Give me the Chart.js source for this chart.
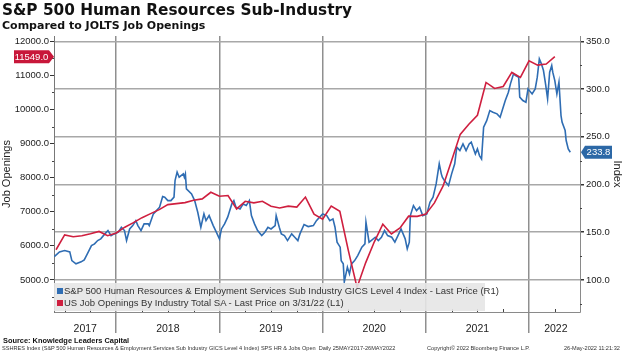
<!DOCTYPE html>
<html>
<head>
<meta charset="utf-8">
<script src="https://cdn.jsdelivr.net/npm/chart.js@4"></script>
<style>
  body { margin: 0; background: #fff; }
  #wrap { position: relative; width: 624px; height: 353px; overflow: hidden; }
  #wrap div { position: absolute; white-space: nowrap; }
  #title { left: 2px; top: 1px; font: bold 15.3px "DejaVu Sans"; color: #111; }
  #subtitle { left: 2px; top: 19px; font: bold 11px "DejaVu Sans"; color: #111; }
  #legend { left: 54px; top: 283px; width: 431px; height: 28px; background: rgba(230,230,230,0.9);
            font: 9.5px "Liberation Sans"; color: #333; line-height: 12px; padding-top: 2px; box-sizing: border-box; }
  #legend span.sq { display: inline-block; width: 6px; height: 6px; margin: 0 1px 0 3px; }
  #source { left: 3px; top: 336px; font: bold 7.4px "Liberation Sans"; color: #111; }
  .foot { top: 345px; font: 5.6px "Liberation Sans"; color: #333; }
</style>
</head>
<body>
<div id="wrap">
  <canvas id="chart" width="624" height="353"></canvas>
  <div id="title">S&amp;P 500 Human Resources Sub-Industry</div>
  <div id="subtitle">Compared to JOLTS Job Openings</div>
  <div id="legend">
    <div style="position:static"><span class="sq" style="background:#2f6db3"></span>S&amp;P 500 Human Resources &amp; Employment Services Sub Industry GICS Level 4 Index - Last Price (R1)</div>
    <div style="position:static"><span class="sq" style="background:#cf1f3f"></span>US Job Openings By Industry Total SA - Last Price on 3/31/22 (L1)</div>
  </div>
  <div id="source">Source: Knowledge Leaders Capital</div>
  <div class="foot" style="left:2px">SSHRES Index (S&amp;P 500 Human Resources &amp; Employment Services Sub Industry GICS Level 4 Index) SPS HR &amp; Jobs Open&nbsp; Daily 25MAY2017-26MAY2022</div>
  <div class="foot" style="left:427px">Copyright© 2022 Bloomberg Finance L.P.</div>
  <div class="foot" style="left:564px">26-May-2022 11:21:32</div>
</div>
<script>
// S&P 500 HR & Employment Services index (right axis)
const hrYears = [
  2017.40, 2017.45, 2017.50, 2017.55, 2017.57, 2017.61, 2017.66, 2017.69, 2017.72, 2017.76,
  2017.79, 2017.82, 2017.85, 2017.89, 2017.92, 2017.95, 2017.98, 2018.02, 2018.05, 2018.08,
  2018.10, 2018.13, 2018.16, 2018.19, 2018.21, 2018.24, 2018.27, 2018.31, 2018.32, 2018.36,
  2018.39, 2018.42, 2018.45, 2018.47, 2018.50, 2018.53, 2018.56, 2018.57, 2018.59, 2018.61,
  2018.65, 2018.66, 2018.67, 2018.68, 2018.73, 2018.76, 2018.79, 2018.82, 2018.85, 2018.87,
  2018.90, 2018.94, 2018.97, 2019.00, 2019.02, 2019.05, 2019.08, 2019.12, 2019.14, 2019.16,
  2019.20, 2019.23, 2019.26, 2019.29, 2019.31, 2019.34, 2019.37, 2019.41, 2019.44, 2019.47,
  2019.50, 2019.54, 2019.55, 2019.58, 2019.60, 2019.63, 2019.66, 2019.70, 2019.73, 2019.76,
  2019.78, 2019.82, 2019.86, 2019.91, 2019.94, 2019.97, 2020.00, 2020.04, 2020.07, 2020.10,
  2020.12, 2020.14, 2020.17, 2020.18, 2020.20, 2020.21, 2020.24, 2020.26, 2020.28, 2020.31,
  2020.34, 2020.38, 2020.41, 2020.42, 2020.45, 2020.47, 2020.51, 2020.54, 2020.57, 2020.60,
  2020.63, 2020.67, 2020.70, 2020.73, 2020.76, 2020.80, 2020.82, 2020.84, 2020.85, 2020.88,
  2020.91, 2020.94, 2020.97, 2021.01, 2021.04, 2021.07, 2021.10, 2021.13, 2021.15, 2021.16,
  2021.18, 2021.22, 2021.25, 2021.28, 2021.30, 2021.33, 2021.36, 2021.39, 2021.42, 2021.44,
  2021.48, 2021.50, 2021.52, 2021.54, 2021.56, 2021.59, 2021.62, 2021.65, 2021.69, 2021.72,
  2021.74, 2021.77, 2021.80, 2021.82, 2021.85, 2021.87, 2021.90, 2021.91, 2021.94, 2021.97,
  2021.99, 2022.03, 2022.06, 2022.08, 2022.10, 2022.12, 2022.14, 2022.16, 2022.18, 2022.20,
  2022.22, 2022.23, 2022.25, 2022.27, 2022.29, 2022.31, 2022.32, 2022.35, 2022.36, 2022.38,
  2022.40
];
const hrValues = [
  124.4, 129.3, 130.7, 129.3, 120.2, 116.8, 118.9, 121.0, 127.2, 135.9,
  137.7, 141.2, 143.0, 148.2, 151.7, 146.4, 148.2, 150.0, 155.2, 151.7,
  141.2, 153.4, 156.9, 162.1, 156.9, 151.7, 158.7, 158.7, 156.9, 169.2,
  172.6, 176.2, 187.3, 186.7, 183.1, 183.1, 186.7, 204.1, 212.9, 207.6,
  211.1, 207.6, 211.1, 195.4, 190.1, 183.1, 170.9, 155.2, 169.2, 162.1,
  167.4, 156.9, 150.0, 143.0, 153.4, 158.7, 165.7, 179.6, 183.1, 176.2,
  174.4, 179.6, 177.9, 183.1, 167.4, 158.7, 151.7, 146.4, 150.0, 155.2,
  153.4, 156.9, 167.4, 155.2, 148.2, 146.4, 141.2, 148.2, 144.7, 141.2,
  148.2, 158.0, 155.9, 156.9, 162.1, 165.7, 169.2, 167.4, 162.1, 163.9,
  155.2, 139.5, 134.3, 120.2, 116.8, 97.9, 113.3, 106.3, 116.8, 120.2,
  125.5, 134.3, 137.7, 160.5, 139.5, 141.2, 144.7, 141.2, 144.7, 151.7,
  146.4, 144.7, 139.5, 146.4, 153.4, 143.0, 132.5, 139.5, 167.4, 177.9,
  172.6, 176.2, 167.4, 169.2, 181.4, 186.7, 200.6, 221.6, 211.1, 207.6,
  204.1, 198.8, 211.1, 221.6, 239.1, 235.5, 242.5, 235.5, 242.5, 244.3,
  232.0, 237.3, 230.3, 226.8, 260.0, 266.9, 277.4, 275.7, 274.0, 270.5,
  277.4, 287.9, 296.7, 305.4, 315.9, 314.1, 312.4, 291.5, 287.9, 286.2,
  300.2, 294.9, 300.2, 312.4, 331.6, 326.4, 319.4, 305.4, 289.7, 317.7,
  324.6, 317.7, 308.9, 294.9, 307.2, 272.2, 265.3, 256.5, 246.0, 237.3,
  233.8
];

// JOLTS job openings, thousands (left axis), monthly
const joltsMonths = [
  '2017-05', '2017-06', '2017-07', '2017-08', '2017-09', '2017-10', '2017-11', '2017-12',
  '2018-01', '2018-02', '2018-03', '2018-04', '2018-05', '2018-06', '2018-07', '2018-08', '2018-09', '2018-10', '2018-11', '2018-12',
  '2019-01', '2019-02', '2019-03', '2019-04', '2019-05', '2019-06', '2019-07', '2019-08', '2019-09', '2019-10', '2019-11', '2019-12',
  '2020-01', '2020-02', '2020-03', '2020-04', '2020-05', '2020-06', '2020-07', '2020-08', '2020-09', '2020-10', '2020-11', '2020-12',
  '2021-01', '2021-02', '2021-03', '2021-04', '2021-05', '2021-06', '2021-07', '2021-08', '2021-09', '2021-10', '2021-11', '2021-12',
  '2022-01', '2022-02', '2022-03'
];
const joltsValues = [
  5884, 6320, 6266, 6296, 6355, 6422, 6296, 6375,
  6546, 6679, 6826, 6944, 7062, 7209, 7238, 7268, 7335, 7377, 7571, 7453,
  7474, 7082, 7306, 7259, 7306, 7159, 7112, 7165, 7135, 7430, 6929, 6782,
  7165, 7011, 5850, 4780, 5500, 6110, 6634, 6349, 6523, 6870, 6864, 6929,
  7259, 7748, 8500, 9270, 9565, 9830, 10793, 10616, 10675, 11087, 10940, 11429,
  11302, 11332, 11549
];

const leftTicks = [5000, 6000, 7000, 8000, 9000, 10000, 11000, 12000];
const leftMinor = [4500, 5500, 6500, 7500, 8500, 9500, 10500, 11500];
const rightTicks = [100, 150, 200, 250, 300, 350];
const rightMinor = [75, 125, 175, 225, 275, 325];
const yearTicks = [2017.70, 2018, 2018.5, 2019, 2019.5, 2020, 2020.5, 2021, 2021.5, 2022, 2022.26];
const quarterTicks = [2017.5, 2017.75, 2018.25, 2018.5, 2018.75, 2019.25, 2019.5, 2019.75,
                      2020.25, 2020.5, 2020.75, 2021.25, 2021.5, 2021.75, 2022.25];

const BLUE = '#2f6db3';
const RED = '#cf1f3f';

// month string -> decimal year at month end
function monthEnd(m) {
    const [y, mo] = m.split('-').map(Number);
    return y + mo / 12;
}

const hrData = hrYears.map((t, i) => ({ x: t, y: hrValues[i] }));
const joltsData = joltsMonths.map((m, i) => ({ x: monthEnd(m), y: joltsValues[i] }));

// small minor tick marks on the three axes
const minorTicks = {
    id: 'minorTicks',
    afterDatasetsDraw(chart) {
        const { ctx, chartArea: a, scales } = chart;
        ctx.save();
        ctx.strokeStyle = '#444';
        ctx.lineWidth = 1;
        ctx.beginPath();
        leftMinor.forEach(v => {
            const y = Math.round(scales.y.getPixelForValue(v)) + 0.5;
            if (y > a.top && y < a.bottom) { ctx.moveTo(a.left - 2, y); ctx.lineTo(a.left, y); }
        });
        rightMinor.forEach(v => {
            const y = Math.round(scales.y1.getPixelForValue(v)) + 0.5;
            if (y > a.top && y < a.bottom) { ctx.moveTo(a.right, y); ctx.lineTo(a.right + 2, y); }
        });
        quarterTicks.forEach(v => {
            const x = Math.round(scales.x.getPixelForValue(v)) + 0.5;
            ctx.moveTo(x, a.bottom); ctx.lineTo(x, a.bottom - 3);
        });
        ctx.stroke();
        ctx.restore();
    }
};

// last value tags on each axis
const lastTags = {
    id: 'lastTags',
    afterDraw(chart) {
        const ctx = chart.ctx;
        const yL = chart.scales.y.getPixelForValue(joltsValues[joltsValues.length - 1]);
        const yR = chart.scales.y1.getPixelForValue(hrValues[hrValues.length - 1]);
        const left = chart.chartArea.left, right = chart.chartArea.right;
        ctx.save();
        ctx.font = '9.5px "Liberation Sans"';
        ctx.textBaseline = 'middle';
        ctx.textAlign = 'center';
        // red tag, left
        ctx.fillStyle = '#c8173a';
        ctx.beginPath();
        ctx.moveTo(14, yL - 6.5); ctx.lineTo(left - 5, yL - 6.5); ctx.lineTo(left, yL);
        ctx.lineTo(left - 5, yL + 6.5); ctx.lineTo(14, yL + 6.5); ctx.closePath();
        ctx.fill();
        ctx.fillStyle = '#fff';
        ctx.fillText(joltsValues[joltsValues.length - 1].toFixed(1), (14 + left - 5) / 2, yL + 0.5);
        // blue tag, right
        ctx.fillStyle = '#2c68a6';
        ctx.beginPath();
        ctx.moveTo(right + 1, yR); ctx.lineTo(right + 5, yR - 6.5); ctx.lineTo(612, yR - 6.5);
        ctx.lineTo(612, yR + 6.5); ctx.lineTo(right + 5, yR + 6.5); ctx.closePath();
        ctx.fill();
        ctx.fillStyle = '#fff';
        ctx.fillText(hrValues[hrValues.length - 1].toFixed(1), (right + 5 + 612) / 2, yR + 0.5);
        ctx.restore();
    }
};

const whiteBg = {
    id: 'whiteBg',
    beforeDraw(chart) {
        const ctx = chart.ctx;
        ctx.save();
        ctx.fillStyle = '#fff';
        ctx.fillRect(0, 0, chart.width, chart.height);
        ctx.restore();
    }
};

const tickFont = { family: 'Liberation Sans', size: 9.5 };

new Chart(document.getElementById('chart'), {
    type: 'line',
    data: {
        datasets: [
            {
                label: 'US Job Openings By Industry Total SA - Last Price on 3/31/22 (L1)',
                data: joltsData,
                xAxisID: 'x',
                yAxisID: 'y',
                borderColor: RED,
                borderWidth: 1.6,
                pointRadius: 0,
                tension: 0,
                order: 0
            },
            {
                label: 'S&P 500 Human Resources & Employment Services Sub Industry GICS Level 4 Index - Last Price (R1)',
                data: hrData,
                xAxisID: 'x',
                yAxisID: 'y1',
                borderColor: BLUE,
                borderWidth: 1.6,
                pointRadius: 0,
                tension: 0,
                order: 1
            }
        ]
    },
    options: {
        responsive: false,
        animation: false,
        devicePixelRatio: 1,
        layout: { padding: { top: 36, left: 0, right: 0, bottom: 20 } },
        plugins: { legend: { display: false }, tooltip: { enabled: false } },
        scales: {
            x: {
                type: 'linear',
                position: 'bottom',
                min: 2017.397,
                max: 2022.494,
                afterBuildTicks: s => { s.ticks = yearTicks.map(v => ({ value: v })); },
                afterFit: s => { s.height = 21; },
                grid: {
                    color: c => (c.tick && Number.isInteger(c.tick.value)) ? '#8f8f8f' : 'rgba(0,0,0,0)',
                    lineWidth: 1.5,
                    tickLength: 21
                },
                border: { display: true, color: '#8a8a8a', width: 1 },
                ticks: {
                    maxRotation: 0,
                    autoSkip: false,
                    padding: -10,
                    color: '#222',
                    font: { family: 'Liberation Sans', size: 10.5 },
                    callback: v => Number.isInteger(v) ? '' : String(Math.floor(v))
                }
            },
            y: {
                position: 'left',
                min: 4058,
                max: 12156,
                afterBuildTicks: s => { s.ticks = leftTicks.map(v => ({ value: v })); },
                afterFit: s => { s.width = 54; },
                grid: { drawOnChartArea: false, tickLength: 4, tickColor: '#333', color: '#333' },
                border: { display: true, color: '#777', width: 1 },
                ticks: { color: '#222', font: tickFont, padding: 1, callback: v => v.toFixed(1) },
                title: { display: true, text: 'Job Openings', color: '#222',
                         font: { family: 'Liberation Sans', size: 11 }, padding: 0 }
            },
            y1: {
                position: 'right',
                min: 66.36,
                max: 355.57,
                afterBuildTicks: s => { s.ticks = rightTicks.map(v => ({ value: v })); },
                afterFit: s => { s.width = 44; },
                grid: { color: '#a8a8a8', lineWidth: 1.5, tickLength: 4, tickColor: '#333' },
                border: { display: true, color: '#8a8a8a', width: 1 },
                ticks: { color: '#222', font: tickFont, padding: 2, callback: v => v.toFixed(1) },
                title: { display: true, text: 'Index', color: '#222',
                         font: { family: 'Liberation Sans', size: 11 }, padding: 0 }
            }
        }
    },
    plugins: [whiteBg, minorTicks, lastTags]
});
</script>
</body>
</html>
